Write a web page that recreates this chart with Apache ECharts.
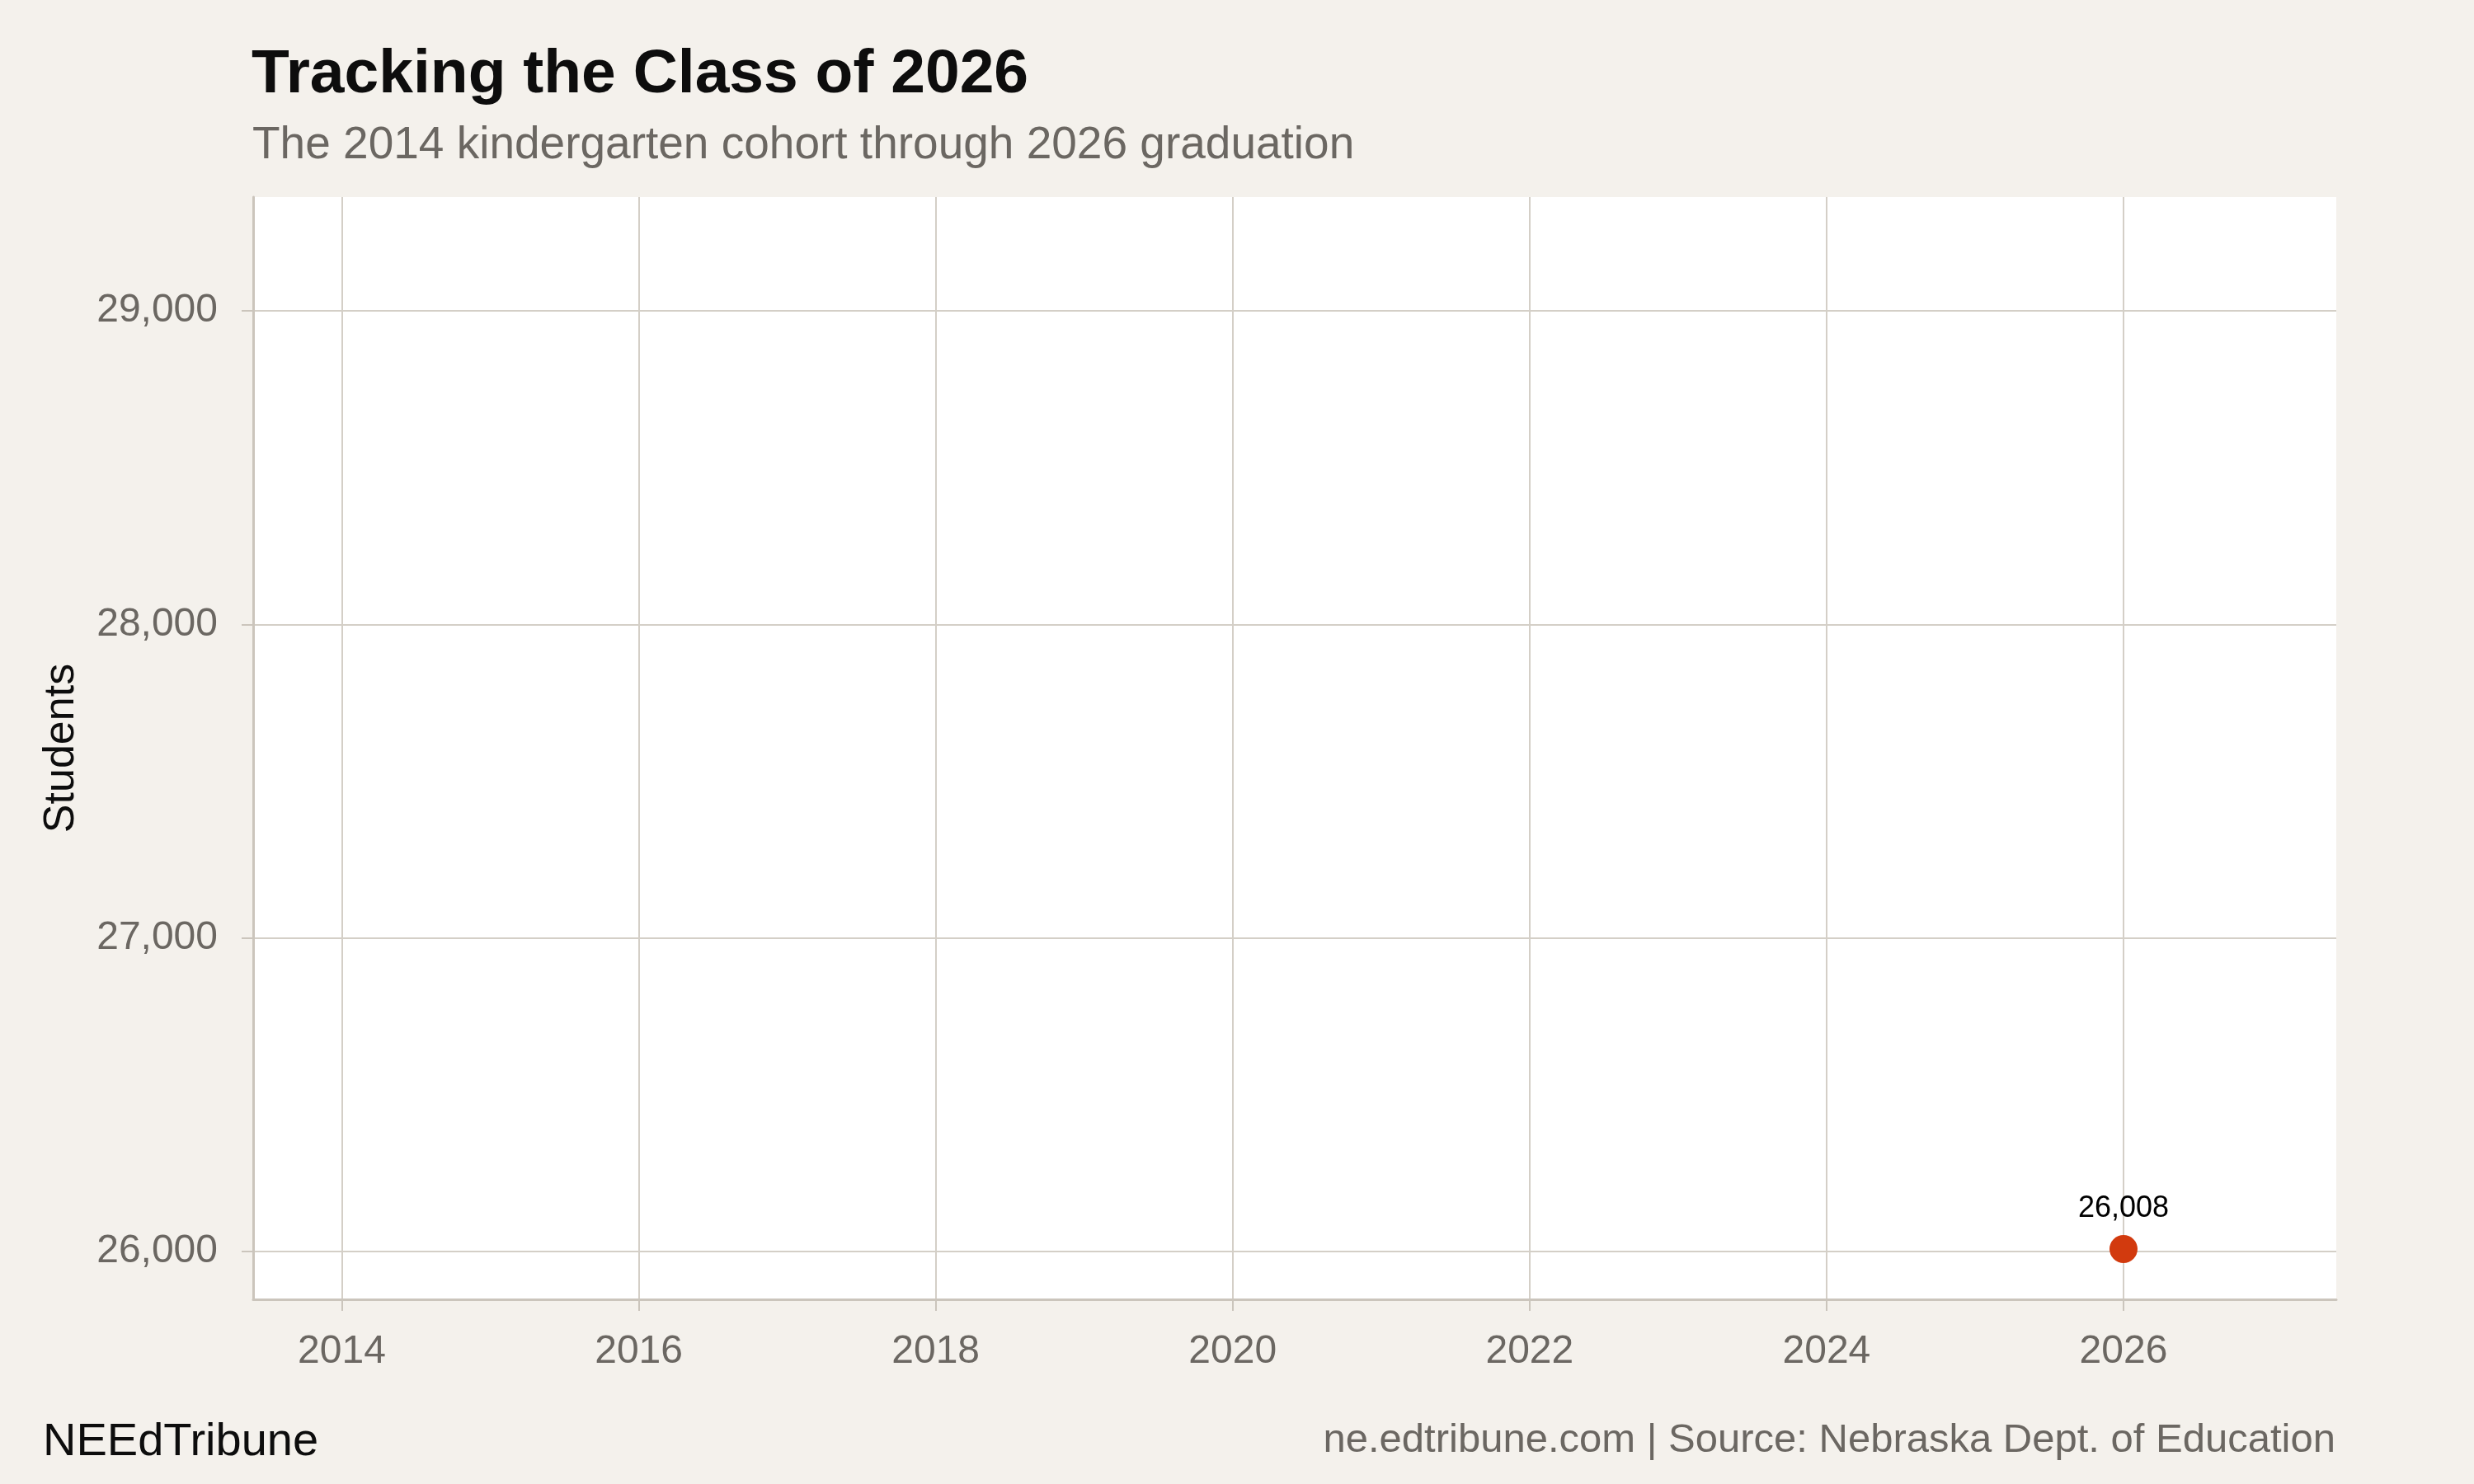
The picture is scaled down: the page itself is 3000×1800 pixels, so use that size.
<!DOCTYPE html>
<html>
<head>
<meta charset="utf-8">
<script src="https://cdn.jsdelivr.net/npm/echarts@6/dist/echarts.min.js"></script>
<style>
  html, body { margin: 0; padding: 0; background: #f4f1ec; }
  #chart { width: 3000px; height: 1800px; }
</style>
</head>
<body>
<div id="chart"></div>
<script>
// cohort data
var years = [2026];
var students = [26008];
var xTicks = [2014, 2016, 2018, 2020, 2022, 2024, 2026];
var yTicks = [26000, 27000, 28000, 29000];

var FONT = '"Liberation Sans", Arial, sans-serif';
var GRID_COLOR = '#d4cfc7';
var AXIS_COLOR = '#cbc5bc';
var LABEL_GRAY = '#6b6762';

function fmt(v) {
    return v.toLocaleString('en-US');
}

var myChart = echarts.init(document.getElementById('chart'));
var option = {
    backgroundColor: '#f4f1ec',
    animation: false,
    title: [
        {
            text: 'Tracking the Class of 2026',
            left: 305, top: 54, padding: 0,
            textStyle: { fontFamily: FONT, fontSize: 75, fontWeight: 'bold', color: '#0d0d0d' }
        },
        {
            text: 'The 2014 kindergarten cohort through 2026 graduation',
            left: 306, top: 149, padding: 0,
            textStyle: { fontFamily: FONT, fontSize: 55, fontWeight: 'normal', color: LABEL_GRAY }
        },
        {
            text: 'NEEdTribune',
            left: 52, top: 1722, padding: 0,
            textStyle: { fontFamily: FONT, fontSize: 56, fontWeight: 'normal', color: '#0d0d0d' }
        },
        {
            text: 'ne.edtribune.com | Source: Nebraska Dept. of Education',
            right: 168, top: 1723, padding: 0,
            textStyle: { fontFamily: FONT, fontSize: 49, fontWeight: 'normal', color: LABEL_GRAY }
        }
    ],
    grid: {
        left: 307, right: 167, top: 239, bottom: 224,
        show: true, backgroundColor: '#ffffff', borderWidth: 0
    },
    xAxis: {
        type: 'value',
        min: 2013.403, max: 2027.433,
        axisLine: { show: true, onZero: false, lineStyle: { color: AXIS_COLOR, width: 3 } },
        axisTick: { show: true, length: 14, customValues: xTicks, lineStyle: { color: AXIS_COLOR, width: 2 } },
        axisLabel: {
            customValues: xTicks, margin: 40,
            fontFamily: FONT, fontSize: 48, color: LABEL_GRAY,
            formatter: function (v) { return String(v); }
        },
        splitLine: { show: true, lineStyle: { color: GRID_COLOR, width: 2 } }
    },
    yAxis: {
        type: 'value',
        min: 25847.5, max: 29363,
        name: 'Students',
        nameLocation: 'middle',
        nameRotate: 90,
        nameGap: 206,
        nameTextStyle: { fontFamily: FONT, fontSize: 52, color: '#0d0d0d' },
        axisLine: { show: true, onZero: false, lineStyle: { color: AXIS_COLOR, width: 3 } },
        axisTick: { show: true, length: 14, customValues: yTicks, lineStyle: { color: AXIS_COLOR, width: 2 } },
        axisLabel: {
            customValues: yTicks, margin: 43,
            fontFamily: FONT, fontSize: 48, color: LABEL_GRAY,
            formatter: function (v) { return fmt(v); }
        },
        splitLine: { show: true, lineStyle: { color: GRID_COLOR, width: 2 } }
    },
    series: [
        {
            name: 'Students',
            type: 'scatter',
            data: years.map(function (y, i) { return [y, students[i]]; }),
            symbolSize: 34,
            itemStyle: { color: '#d23a0e', opacity: 1 },
            label: {
                show: true, position: 'top', distance: 14,
                fontFamily: FONT, fontSize: 36, color: '#000000',
                formatter: function (p) { return fmt(p.value[1]); }
            }
        }
    ]
};
myChart.setOption(option);
</script>
</body>
</html>
